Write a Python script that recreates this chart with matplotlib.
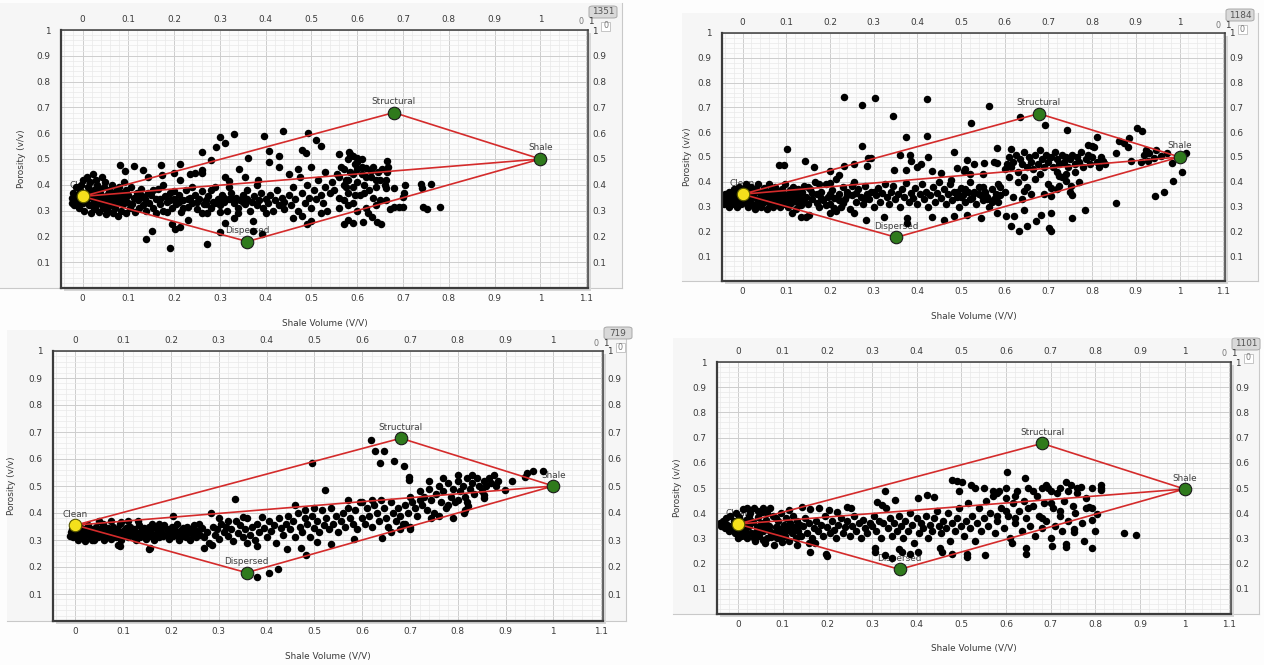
import matplotlib
matplotlib.use('Agg')
import matplotlib.pyplot as plt
from matplotlib.patches import Rectangle, FancyBboxPatch
import numpy as np

W, H = 1264, 665

# ---- data -------------------------------------------------------------
node_names = ['Clean', 'Structural', 'Shale', 'Dispersed']

p1_node_vsh = [0.0, 0.68, 1.0, 0.36]
p1_node_phi = [0.355, 0.68, 0.5, 0.18]
p2_node_vsh = [0.0, 0.678, 1.0, 0.352]
p2_node_phi = [0.35, 0.675, 0.5, 0.176]
p3_node_vsh = [0.0, 0.681, 1.0, 0.358]
p3_node_phi = [0.355, 0.677, 0.5, 0.179]
p4_node_vsh = [0.0, 0.681, 1.0, 0.362]
p4_node_phi = [0.357, 0.677, 0.496, 0.177]

sample_counts = ['1351', '1184', '719', '1101']

x_ticks = [0, 0.1, 0.2, 0.3, 0.4, 0.5, 0.6, 0.7, 0.8, 0.9, 1.0, 1.1]
x_tick_labels = ['0', '0.1', '0.2', '0.3', '0.4', '0.5', '0.6', '0.7',
                 '0.8', '0.9', '1', '1.1']
y_ticks = [0.1, 0.2, 0.3, 0.4, 0.5, 0.6, 0.7, 0.8, 0.9, 1.0]
y_tick_labels = ['0.1', '0.2', '0.3', '0.4', '0.5', '0.6', '0.7', '0.8',
                 '0.9', '1']

# (shale volume, porosity)
p1_pts = [
    (-0.024, 0.33), (-0.022, 0.35), (-0.02, 0.37), (-0.018, 0.32), (-0.015, 0.39), (-0.012, 0.34),
    (-0.01, 0.36), (-0.008, 0.31), (-0.006, 0.38), (-0.004, 0.40), (0.0, 0.42), (0.002, 0.33),
    (0.004, 0.30), (0.006, 0.37), (0.008, 0.35), (0.01, 0.43), (0.012, 0.39), (0.014, 0.32),
    (0.016, 0.41), (0.018, 0.29), (0.02, 0.36), (0.022, 0.44), (0.024, 0.34), (0.026, 0.38),
    (0.028, 0.31), (0.03, 0.42), (0.032, 0.40), (0.034, 0.33), (0.036, 0.295), (0.038, 0.37),
    (0.04, 0.35), (0.042, 0.43), (0.044, 0.31), (0.046, 0.39), (0.048, 0.33), (0.05, 0.41),
    (0.052, 0.285), (0.054, 0.36), (0.056, 0.30), (0.058, 0.38), (0.06, 0.34), (0.062, 0.32),
    (0.064, 0.40), (0.066, 0.29), (0.068, 0.36), (0.07, 0.345), (0.072, 0.31), (0.074, 0.375),
    (0.076, 0.33), (0.078, 0.28), (0.08, 0.39), (0.082, 0.355), (0.084, 0.30), (0.086, 0.37),
    (0.088, 0.325), (0.09, 0.41), (0.092, 0.345), (0.094, 0.29), (0.096, 0.38), (0.098, 0.335),
    (0.10, 0.36), (0.103, 0.31), (0.106, 0.39), (0.109, 0.325), (0.112, 0.35), (0.115, 0.295),
    (0.118, 0.37), (0.121, 0.34), (0.124, 0.31), (0.127, 0.385), (0.13, 0.355), (0.133, 0.32),
    (0.136, 0.345), (0.139, 0.30), (0.142, 0.37), (0.0, 0.36), (0.01, 0.345), (0.02, 0.32),
    (0.03, 0.355), (0.04, 0.325), (0.05, 0.345), (0.06, 0.365), (0.07, 0.325), (-0.01, 0.325),
    (0.015, 0.37), (0.035, 0.385), (0.045, 0.35), (0.025, 0.305), (0.055, 0.32), (0.065, 0.35),
    (0.075, 0.355), (0.085, 0.34), (0.095, 0.355), (0.005, 0.355), (-0.015, 0.355),
    (0.145, 0.33), (0.15, 0.36), (0.155, 0.31), (0.16, 0.345), (0.165, 0.385), (0.17, 0.325),
    (0.175, 0.30), (0.18, 0.355), (0.185, 0.335), (0.19, 0.37), (0.195, 0.31), (0.20, 0.345),
    (0.205, 0.325), (0.21, 0.36), (0.215, 0.295), (0.22, 0.34), (0.225, 0.38), (0.23, 0.315),
    (0.235, 0.35), (0.24, 0.33), (0.245, 0.36), (0.25, 0.305), (0.255, 0.345), (0.26, 0.375),
    (0.265, 0.325), (0.27, 0.34), (0.275, 0.355), (0.28, 0.31), (0.285, 0.335), (0.29, 0.39),
    (0.295, 0.345), (0.30, 0.32), (0.305, 0.36), (0.31, 0.335), (0.315, 0.30), (0.32, 0.345),
    (0.325, 0.37), (0.33, 0.33), (0.335, 0.35), (0.34, 0.31), (0.345, 0.34), (0.35, 0.36),
    (0.355, 0.325), (0.36, 0.345), (0.365, 0.30), (0.37, 0.335), (0.375, 0.355), (0.38, 0.32),
    (0.385, 0.34), (0.39, 0.37), (0.395, 0.31), (0.40, 0.345), (0.405, 0.33), (0.41, 0.36),
    (0.415, 0.30), (0.42, 0.34), (0.425, 0.38), (0.43, 0.32), (0.435, 0.35), (0.44, 0.335),
    (0.17, 0.345), (0.19, 0.34), (0.21, 0.335), (0.23, 0.345), (0.25, 0.335), (0.27, 0.325),
    (0.29, 0.33), (0.31, 0.35), (0.33, 0.345), (0.35, 0.335), (0.2, 0.375), (0.24, 0.39),
    (0.28, 0.38), (0.32, 0.39), (0.36, 0.38), (0.38, 0.40), (0.22, 0.31), (0.26, 0.29),
    (0.3, 0.295), (0.34, 0.29), (0.4, 0.29), (0.44, 0.305), (0.155, 0.38), (0.175, 0.40),
    (0.16, 0.29), (0.185, 0.295),
    (0.45, 0.36), (0.455, 0.32), (0.46, 0.39), (0.465, 0.345), (0.47, 0.30), (0.475, 0.43),
    (0.48, 0.37), (0.485, 0.33), (0.49, 0.40), (0.495, 0.35), (0.50, 0.31), (0.505, 0.38),
    (0.51, 0.345), (0.515, 0.42), (0.52, 0.36), (0.525, 0.33), (0.53, 0.39), (0.535, 0.30),
    (0.54, 0.37), (0.545, 0.41), (0.46, 0.27), (0.48, 0.28), (0.5, 0.26), (0.52, 0.29),
    (0.47, 0.46), (0.5, 0.47), (0.53, 0.45), (0.49, 0.25),
    (0.55, 0.38), (0.555, 0.44), (0.56, 0.35), (0.565, 0.47), (0.57, 0.40), (0.575, 0.42),
    (0.58, 0.37), (0.585, 0.45), (0.59, 0.39), (0.595, 0.48), (0.60, 0.41), (0.605, 0.36),
    (0.61, 0.44), (0.615, 0.40), (0.62, 0.465), (0.625, 0.38), (0.63, 0.43), (0.635, 0.47),
    (0.64, 0.39), (0.645, 0.45), (0.65, 0.42), (0.655, 0.46), (0.66, 0.40), (0.56, 0.43),
    (0.57, 0.46), (0.58, 0.42), (0.59, 0.44), (0.6, 0.46), (0.61, 0.47), (0.62, 0.43),
    (0.63, 0.455), (0.64, 0.42), (0.58, 0.50), (0.585, 0.52), (0.59, 0.51), (0.60, 0.49),
    (0.61, 0.50), (0.575, 0.39), (0.595, 0.36), (0.615, 0.37), (0.635, 0.35), (0.56, 0.31),
    (0.58, 0.32), (0.6, 0.30), (0.62, 0.31), (0.64, 0.32), (0.65, 0.34), (0.57, 0.34),
    (0.59, 0.33), (0.652, 0.248), (0.643, 0.257), (0.633, 0.276), (0.623, 0.289), (0.612, 0.257),
    (0.590, 0.252), (0.579, 0.262), (0.572, 0.249), (0.583, 0.528), (0.599, 0.502), (0.561, 0.519),
    (0.521, 0.552), (0.510, 0.573), (0.492, 0.60), (0.479, 0.535), (0.488, 0.522),
    (0.663, 0.341), (0.663, 0.386), (0.663, 0.418), (0.664, 0.451), (0.664, 0.492), (0.667, 0.47),
    (0.681, 0.315), (0.692, 0.315), (0.701, 0.351), (0.703, 0.367), (0.704, 0.399), (0.739, 0.403),
    (0.761, 0.403), (0.741, 0.387), (0.743, 0.313), (0.752, 0.306), (0.781, 0.313), (0.671, 0.306),
    (0.68, 0.387), (0.70, 0.313),
    (0.139, 0.189), (0.151, 0.22), (0.191, 0.155), (0.195, 0.249), (0.202, 0.228), (0.212, 0.235),
    (0.272, 0.169), (0.272, 0.29), (0.231, 0.263), (0.301, 0.216), (0.311, 0.253), (0.33, 0.27),
    (0.372, 0.22), (0.392, 0.21), (0.372, 0.26),
    (0.301, 0.586), (0.311, 0.563), (0.331, 0.595), (0.291, 0.548), (0.262, 0.528), (0.281, 0.497),
    (0.397, 0.589), (0.437, 0.608), (0.407, 0.53), (0.361, 0.503), (0.43, 0.51), (0.407, 0.487),
    (0.43, 0.47), (0.452, 0.44),
    (0.081, 0.477), (0.092, 0.455), (0.113, 0.471), (0.132, 0.458), (0.172, 0.477), (0.212, 0.48),
    (0.2, 0.445), (0.174, 0.437), (0.142, 0.43), (0.212, 0.42), (0.234, 0.44), (0.245, 0.445),
    (0.262, 0.457), (0.262, 0.445), (0.312, 0.432), (0.321, 0.414), (0.341, 0.463), (0.354, 0.432),
    (0.383, 0.42),
]

p2_pts = [
    (-0.045, 0.33), (-0.043, 0.31), (-0.04, 0.35), (-0.038, 0.32), (-0.035, 0.34), (-0.032, 0.30),
    (-0.03, 0.36), (-0.028, 0.33), (-0.025, 0.31), (-0.022, 0.35), (-0.02, 0.37), (-0.018, 0.32),
    (-0.015, 0.34), (-0.012, 0.30), (-0.01, 0.36), (-0.008, 0.38), (-0.005, 0.33), (-0.003, 0.31),
    (0.0, 0.35), (0.003, 0.37), (0.005, 0.32), (0.008, 0.39), (0.01, 0.34), (0.012, 0.30),
    (0.015, 0.36), (0.018, 0.33), (0.02, 0.38), (0.022, 0.31), (0.025, 0.35), (0.028, 0.29),
    (0.03, 0.37), (0.033, 0.33), (0.035, 0.39), (0.038, 0.315), (0.04, 0.355), (0.043, 0.30),
    (0.045, 0.34), (0.048, 0.375), (0.05, 0.32), (0.053, 0.36), (0.055, 0.29), (0.058, 0.345),
    (0.06, 0.39), (0.063, 0.31), (0.065, 0.365), (0.068, 0.33), (0.07, 0.30), (0.073, 0.35),
    (0.075, 0.38), (0.078, 0.32), (0.08, 0.34), (0.083, 0.36), (0.085, 0.30), (0.088, 0.33),
    (0.09, 0.37), (0.093, 0.31), (0.095, 0.35), (0.098, 0.39), (0.10, 0.325), (0.103, 0.345),
    (0.105, 0.30), (0.108, 0.365), (0.11, 0.315), (0.113, 0.34), (0.115, 0.38), (0.118, 0.33),
    (0.12, 0.355), (0.123, 0.29), (0.125, 0.32), (0.128, 0.37), (0.13, 0.34), (0.133, 0.305),
    (0.135, 0.36), (0.138, 0.325), (0.14, 0.385), (-0.02, 0.345), (0.0, 0.325), (0.02, 0.345),
    (0.04, 0.325), (0.06, 0.335), (0.08, 0.315), (0.01, 0.31), (0.03, 0.305), (0.05, 0.34),
    (0.07, 0.36),
    (0.145, 0.34), (0.15, 0.31), (0.155, 0.37), (0.16, 0.33), (0.165, 0.40), (0.17, 0.35),
    (0.175, 0.30), (0.18, 0.36), (0.185, 0.325), (0.19, 0.39), (0.195, 0.34), (0.20, 0.31),
    (0.205, 0.365), (0.21, 0.335), (0.215, 0.41), (0.22, 0.35), (0.225, 0.30), (0.23, 0.38),
    (0.235, 0.33), (0.24, 0.36), (0.245, 0.29), (0.25, 0.345), (0.255, 0.40), (0.26, 0.32),
    (0.265, 0.37), (0.27, 0.34), (0.275, 0.31), (0.28, 0.385), (0.285, 0.35), (0.29, 0.33),
    (0.295, 0.36), (0.30, 0.30), (0.305, 0.345), (0.31, 0.375), (0.315, 0.32), (0.32, 0.355),
    (0.325, 0.39), (0.33, 0.34), (0.335, 0.31), (0.34, 0.36), (0.345, 0.385), (0.35, 0.33),
    (0.355, 0.35), (0.36, 0.30), (0.365, 0.37), (0.37, 0.34), (0.375, 0.395), (0.38, 0.32),
    (0.385, 0.355), (0.39, 0.335), (0.395, 0.375), (0.40, 0.31), (0.405, 0.35), (0.41, 0.39),
    (0.415, 0.33), (0.42, 0.36), (0.425, 0.30), (0.43, 0.345), (0.435, 0.38), (0.44, 0.32),
    (0.445, 0.355), (0.45, 0.40), (0.455, 0.335), (0.46, 0.37), (0.465, 0.31), (0.47, 0.35),
    (0.475, 0.39), (0.48, 0.325), (0.485, 0.36), (0.49, 0.34), (0.495, 0.30), (0.50, 0.375),
    (0.505, 0.345), (0.51, 0.32), (0.515, 0.36), (0.52, 0.40), (0.525, 0.335), (0.53, 0.355),
    (0.535, 0.31), (0.54, 0.38), (0.545, 0.345), (0.55, 0.325), (0.555, 0.36), (0.56, 0.34),
    (0.565, 0.30), (0.57, 0.37), (0.575, 0.33), (0.58, 0.35), (0.585, 0.32), (0.59, 0.345),
    (0.16, 0.355), (0.18, 0.335), (0.2, 0.35), (0.22, 0.325), (0.24, 0.345), (0.26, 0.355),
    (0.28, 0.33), (0.3, 0.36), (0.17, 0.315), (0.19, 0.305), (0.21, 0.295), (0.23, 0.315),
    (0.15, 0.38), (0.175, 0.39), (0.2, 0.395), (0.25, 0.385),
    (0.232, 0.743), (0.274, 0.71), (0.303, 0.739), (0.344, 0.666), (0.423, 0.734), (0.374, 0.579),
    (0.423, 0.585), (0.424, 0.499), (0.274, 0.543), (0.286, 0.496), (0.255, 0.473), (0.102, 0.533),
    (0.083, 0.466), (0.094, 0.466), (0.142, 0.482), (0.163, 0.46), (0.383, 0.508), (0.408, 0.47),
    (0.2, 0.442), (0.22, 0.429), (0.232, 0.462), (0.293, 0.495), (0.285, 0.462), (0.361, 0.508),
    (0.385, 0.485), (0.4, 0.459), (0.346, 0.448), (0.373, 0.448), (0.484, 0.522), (0.434, 0.442),
    (0.453, 0.435), (0.476, 0.408), (0.491, 0.455), (0.507, 0.442), (0.514, 0.488), (0.552, 0.475),
    (0.583, 0.475), (0.583, 0.535), (0.614, 0.531), (0.522, 0.639), (0.564, 0.706), (0.634, 0.662),
    (0.693, 0.629), (0.743, 0.609), (0.811, 0.579), (0.903, 0.615), (0.914, 0.605), (0.862, 0.566),
    (0.873, 0.558), (0.885, 0.575), (0.881, 0.542), (0.855, 0.515), (0.923, 0.529), (0.919, 0.509),
    (0.93, 0.515), (0.946, 0.529), (0.942, 0.495), (0.957, 0.505), (0.972, 0.515), (0.888, 0.482),
    (0.911, 0.478), (0.927, 0.485), (1.014, 0.518), (0.983, 0.474), (1.006, 0.441), (0.984, 0.404),
    (0.964, 0.357), (0.944, 0.341), (0.854, 0.313), (0.783, 0.286), (0.755, 0.253),
    (0.614, 0.221), (0.633, 0.201), (0.652, 0.221), (0.671, 0.241), (0.682, 0.268), (0.701, 0.214),
    (0.705, 0.201), (0.705, 0.275), (0.751, 0.382), (0.755, 0.348), (0.74, 0.402), (0.724, 0.422),
    (0.724, 0.382), (0.705, 0.375), (0.705, 0.341), (0.644, 0.287), (0.644, 0.361), (0.644, 0.419),
    (0.583, 0.274), (0.602, 0.261), (0.621, 0.261), (0.545, 0.254), (0.514, 0.267), (0.484, 0.261),
    (0.461, 0.247), (0.434, 0.258), (0.377, 0.234), (0.377, 0.254), (0.323, 0.258), (0.283, 0.247),
    (0.255, 0.274), (0.213, 0.281), (0.201, 0.274), (0.133, 0.26), (0.145, 0.26), (0.152, 0.267),
    (0.114, 0.274),
    (0.60, 0.45), (0.605, 0.47), (0.61, 0.50), (0.615, 0.46), (0.62, 0.48), (0.625, 0.51),
    (0.63, 0.44), (0.635, 0.49), (0.64, 0.47), (0.645, 0.52), (0.65, 0.46), (0.655, 0.50),
    (0.66, 0.48), (0.665, 0.45), (0.67, 0.51), (0.675, 0.47), (0.68, 0.53), (0.685, 0.49),
    (0.69, 0.46), (0.695, 0.51), (0.70, 0.48), (0.705, 0.50), (0.71, 0.46), (0.715, 0.52),
    (0.72, 0.49), (0.725, 0.47), (0.73, 0.51), (0.735, 0.48), (0.74, 0.50), (0.745, 0.46),
    (0.75, 0.49), (0.755, 0.51), (0.76, 0.47), (0.765, 0.50), (0.77, 0.48), (0.775, 0.52),
    (0.78, 0.46), (0.785, 0.49), (0.79, 0.51), (0.795, 0.47), (0.80, 0.50), (0.805, 0.54),
    (0.81, 0.48), (0.815, 0.46), (0.82, 0.50), (0.825, 0.485), (0.83, 0.47), (0.79, 0.55),
    (0.80, 0.545), (0.76, 0.44), (0.74, 0.43), (0.72, 0.44),
    (0.61, 0.42), (0.63, 0.40), (0.65, 0.38), (0.67, 0.41), (0.69, 0.35), (0.70, 0.39),
    (0.72, 0.37), (0.73, 0.42), (0.75, 0.36), (0.77, 0.40), (0.6, 0.36), (0.62, 0.34),
    (0.64, 0.33), (0.66, 0.35), (0.68, 0.43), (0.49, 0.36), (0.50, 0.34), (0.51, 0.37),
    (0.52, 0.33), (0.53, 0.36), (0.54, 0.35), (0.55, 0.38), (0.56, 0.33), (0.57, 0.32),
    (0.58, 0.33), (0.51, 0.45), (0.52, 0.43), (0.53, 0.47), (0.55, 0.43), (0.575, 0.48),
    (0.585, 0.39), (0.59, 0.38),
]

p3_pts = [
    (-0.01, 0.33), (-0.005, 0.31), (0.0, 0.34), (0.003, 0.32), (0.006, 0.30), (0.009, 0.35),
    (0.012, 0.33), (0.015, 0.31), (0.018, 0.34), (0.021, 0.295), (0.024, 0.325), (0.027, 0.355),
    (0.03, 0.31), (0.033, 0.34), (0.036, 0.32), (0.039, 0.30), (0.042, 0.35), (0.045, 0.33),
    (0.048, 0.31), (0.051, 0.34), (0.054, 0.32), (0.057, 0.36), (0.06, 0.30), (0.063, 0.335),
    (0.066, 0.315), (0.069, 0.345), (0.072, 0.325), (0.075, 0.305), (0.078, 0.35), (0.081, 0.33),
    (0.084, 0.31), (0.087, 0.34), (0.09, 0.32), (0.093, 0.36), (0.096, 0.30), (0.099, 0.335),
    (0.102, 0.315), (0.105, 0.345), (0.108, 0.325), (0.111, 0.31), (0.114, 0.35), (0.117, 0.33),
    (0.12, 0.315), (0.123, 0.34), (0.126, 0.30), (0.129, 0.325), (0.132, 0.355), (0.135, 0.31),
    (0.138, 0.335), (0.141, 0.32), (0.144, 0.345), (0.147, 0.305), (0.15, 0.33), (0.153, 0.35),
    (0.156, 0.315), (0.159, 0.34), (0.162, 0.32), (0.165, 0.30), (0.168, 0.345), (0.171, 0.325),
    (0.174, 0.31), (0.177, 0.34), (0.18, 0.33), (0.183, 0.315), (0.186, 0.355), (0.189, 0.32),
    (0.192, 0.34), (0.195, 0.305), (0.198, 0.33), (0.201, 0.35), (0.204, 0.315), (0.207, 0.34),
    (0.21, 0.32), (0.213, 0.36), (0.216, 0.30), (0.219, 0.335), (0.222, 0.315), (0.225, 0.345),
    (0.228, 0.325), (0.231, 0.31), (0.234, 0.35), (0.237, 0.33), (0.24, 0.30), (0.243, 0.34),
    (0.246, 0.32), (0.249, 0.355), (0.252, 0.31), (0.255, 0.335), (0.258, 0.36), (0.261, 0.32),
    (-0.012, 0.315), (-0.008, 0.34), (0.005, 0.335), (0.01, 0.315), (0.02, 0.325), (0.03, 0.335),
    (0.04, 0.315), (0.035, 0.3), (0.05, 0.32), (0.06, 0.345), (0.07, 0.31), (0.05, 0.37),
    (0.075, 0.37), (0.095, 0.365), (0.11, 0.37), (0.09, 0.28), (0.155, 0.27), (0.153, 0.265),
    (0.094, 0.277), (0.204, 0.388), (0.13, 0.37), (0.16, 0.36), (0.175, 0.36),
    (0.265, 0.345), (0.27, 0.31), (0.275, 0.33), (0.28, 0.29), (0.284, 0.40), (0.288, 0.35),
    (0.292, 0.32), (0.296, 0.34), (0.30, 0.305), (0.305, 0.36), (0.31, 0.33), (0.315, 0.35),
    (0.32, 0.315), (0.325, 0.34), (0.33, 0.295), (0.333, 0.453), (0.336, 0.37), (0.34, 0.325),
    (0.345, 0.355), (0.35, 0.31), (0.355, 0.34), (0.36, 0.38), (0.365, 0.32), (0.37, 0.35),
    (0.375, 0.30), (0.38, 0.36), (0.385, 0.33), (0.39, 0.385), (0.395, 0.345), (0.40, 0.31),
    (0.405, 0.37), (0.41, 0.335), (0.415, 0.355), (0.42, 0.29), (0.425, 0.38), (0.43, 0.345),
    (0.268, 0.27), (0.285, 0.28), (0.38, 0.277), (0.36, 0.29), (0.32, 0.37), (0.3, 0.38),
    (0.35, 0.385),
    (0.435, 0.32), (0.44, 0.36), (0.443, 0.265), (0.445, 0.39), (0.45, 0.34), (0.455, 0.37),
    (0.46, 0.31), (0.465, 0.40), (0.47, 0.35), (0.473, 0.272), (0.475, 0.33), (0.48, 0.38),
    (0.482, 0.244), (0.485, 0.36), (0.49, 0.31), (0.494, 0.587), (0.495, 0.39), (0.50, 0.345),
    (0.505, 0.293), (0.505, 0.37), (0.51, 0.33), (0.515, 0.41), (0.52, 0.355), (0.523, 0.485),
    (0.525, 0.38), (0.53, 0.34), (0.534, 0.287), (0.535, 0.42), (0.54, 0.36), (0.545, 0.39),
    (0.55, 0.33), (0.555, 0.37), (0.46, 0.43), (0.48, 0.41), (0.50, 0.42),
    (0.56, 0.40), (0.565, 0.35), (0.57, 0.42), (0.575, 0.38), (0.58, 0.36), (0.582, 0.302),
    (0.585, 0.41), (0.59, 0.34), (0.595, 0.44), (0.60, 0.38), (0.605, 0.36), (0.61, 0.42),
    (0.615, 0.39), (0.62, 0.35), (0.625, 0.43), (0.63, 0.40), (0.635, 0.37), (0.64, 0.45),
    (0.641, 0.306), (0.645, 0.42), (0.65, 0.38), (0.655, 0.35), (0.66, 0.44), (0.665, 0.40),
    (0.67, 0.37), (0.675, 0.42), (0.68, 0.39), (0.685, 0.36), (0.69, 0.43), (0.695, 0.40),
    (0.70, 0.35), (0.70, 0.46), (0.705, 0.44), (0.71, 0.42), (0.715, 0.39), (0.72, 0.45),
    (0.57, 0.45), (0.6, 0.44), (0.62, 0.45), (0.66, 0.33), (0.68, 0.34), (0.69, 0.36),
    (0.7, 0.34),
    (0.72, 0.48), (0.725, 0.43), (0.73, 0.46), (0.735, 0.41), (0.74, 0.49), (0.745, 0.45),
    (0.75, 0.40), (0.755, 0.47), (0.76, 0.50), (0.765, 0.44), (0.77, 0.48), (0.775, 0.42),
    (0.78, 0.51), (0.785, 0.46), (0.79, 0.49), (0.79, 0.381), (0.795, 0.44), (0.80, 0.52),
    (0.805, 0.48), (0.81, 0.50), (0.813, 0.40), (0.815, 0.412), (0.815, 0.46), (0.82, 0.53),
    (0.822, 0.426), (0.825, 0.49), (0.83, 0.51), (0.835, 0.47), (0.84, 0.53), (0.845, 0.50),
    (0.85, 0.48), (0.854, 0.454), (0.854, 0.466), (0.855, 0.52), (0.86, 0.50), (0.865, 0.53),
    (0.87, 0.51), (0.875, 0.54), (0.88, 0.50), (0.885, 0.52), (0.899, 0.485), (0.913, 0.518),
    (0.941, 0.534), (0.945, 0.547), (0.958, 0.555), (0.979, 0.555), (0.74, 0.52), (0.77, 0.53),
    (0.8, 0.54), (0.83, 0.54), (0.76, 0.39), (0.745, 0.38), (0.78, 0.43), (0.8, 0.45),
    (0.82, 0.44),
    (0.618, 0.67), (0.627, 0.631), (0.646, 0.631), (0.637, 0.587), (0.667, 0.593), (0.687, 0.573),
    (0.699, 0.534), (0.699, 0.522), (0.38, 0.164), (0.404, 0.179), (0.424, 0.192),
]

p4_pts = [
    (-0.04, 0.36), (-0.037, 0.35), (-0.034, 0.37), (-0.03, 0.34), (-0.027, 0.38), (-0.024, 0.355),
    (-0.02, 0.33), (-0.017, 0.39), (-0.014, 0.345), (-0.01, 0.37), (-0.007, 0.32), (-0.004, 0.40),
    (0.0, 0.34), (0.003, 0.385), (0.006, 0.31), (0.009, 0.36), (0.012, 0.415), (0.015, 0.33),
    (0.018, 0.375), (0.021, 0.30), (0.024, 0.35), (0.027, 0.40), (0.03, 0.32), (0.033, 0.365),
    (0.036, 0.42), (0.039, 0.29), (0.042, 0.345), (0.045, 0.385), (0.048, 0.31), (0.051, 0.36),
    (0.054, 0.405), (0.057, 0.33), (0.06, 0.28), (0.063, 0.375), (0.066, 0.30), (0.069, 0.35),
    (0.072, 0.42), (0.075, 0.32), (0.078, 0.39), (0.081, 0.275), (0.084, 0.345), (0.087, 0.30),
    (0.09, 0.37), (0.093, 0.325), (0.096, 0.40), (0.099, 0.285), (0.102, 0.355), (0.105, 0.31),
    (0.108, 0.38), (0.111, 0.335), (0.114, 0.29), (0.117, 0.36), (0.12, 0.32), (0.123, 0.39),
    (0.126, 0.345), (0.129, 0.30), (0.132, 0.37), (0.135, 0.33), (0.138, 0.355), (0.141, 0.31),
    (0.0, 0.30), (0.01, 0.325), (0.02, 0.345), (0.03, 0.37), (0.04, 0.325), (0.05, 0.345),
    (0.06, 0.355), (0.07, 0.335), (0.08, 0.32), (0.09, 0.34), (0.1, 0.33), (0.11, 0.35),
    (0.015, 0.31), (0.035, 0.30), (0.055, 0.295), (0.075, 0.305), (0.095, 0.31), (-0.02, 0.35),
    (-0.01, 0.355), (0.005, 0.35), (0.025, 0.39), (0.045, 0.41), (0.065, 0.40), (0.085, 0.38),
    (0.02, 0.42), (0.055, 0.42),
    (0.145, 0.35), (0.15, 0.38), (0.155, 0.32), (0.16, 0.36), (0.162, 0.416), (0.165, 0.30),
    (0.17, 0.34), (0.173, 0.28), (0.175, 0.37), (0.18, 0.33), (0.181, 0.42), (0.185, 0.355),
    (0.19, 0.31), (0.195, 0.39), (0.2, 0.345), (0.204, 0.413), (0.205, 0.32), (0.21, 0.37),
    (0.215, 0.335), (0.22, 0.30), (0.222, 0.404), (0.225, 0.355), (0.23, 0.38), (0.235, 0.32),
    (0.24, 0.345), (0.244, 0.426), (0.245, 0.37), (0.25, 0.31), (0.254, 0.42), (0.255, 0.35),
    (0.26, 0.39), (0.265, 0.33), (0.27, 0.36), (0.275, 0.30), (0.28, 0.375), (0.285, 0.34),
    (0.29, 0.32), (0.295, 0.36), (0.143, 0.424), (0.114, 0.413), (0.132, 0.273), (0.158, 0.28),
    (0.162, 0.248), (0.2, 0.231), (0.196, 0.238),
    (0.30, 0.35), (0.305, 0.39), (0.307, 0.248), (0.307, 0.26), (0.31, 0.33), (0.311, 0.446),
    (0.315, 0.37), (0.32, 0.30), (0.322, 0.433), (0.325, 0.36), (0.33, 0.234), (0.33, 0.488),
    (0.331, 0.42), (0.335, 0.34), (0.34, 0.38), (0.345, 0.221), (0.345, 0.31), (0.35, 0.36),
    (0.352, 0.452), (0.355, 0.33), (0.36, 0.257), (0.36, 0.39), (0.365, 0.35), (0.367, 0.248),
    (0.37, 0.30), (0.375, 0.37), (0.38, 0.33), (0.385, 0.40), (0.386, 0.24), (0.39, 0.355),
    (0.395, 0.28), (0.40, 0.38), (0.403, 0.462), (0.404, 0.248), (0.405, 0.32), (0.41, 0.36),
    (0.415, 0.34), (0.42, 0.39), (0.423, 0.472), (0.425, 0.30), (0.43, 0.355), (0.435, 0.33),
    (0.438, 0.466), (0.44, 0.38), (0.445, 0.41), (0.45, 0.35), (0.452, 0.26), (0.455, 0.32),
    (0.457, 0.248), (0.46, 0.37), (0.465, 0.34), (0.47, 0.40), (0.475, 0.29), (0.48, 0.237),
    (0.48, 0.532), (0.48, 0.36), (0.485, 0.33), (0.49, 0.38), (0.491, 0.528), (0.494, 0.488),
    (0.495, 0.42), (0.50, 0.35), (0.502, 0.523), (0.505, 0.31), (0.51, 0.37), (0.513, 0.24),
    (0.513, 0.225), (0.515, 0.44), (0.52, 0.34), (0.521, 0.512), (0.525, 0.39), (0.53, 0.29),
    (0.535, 0.36), (0.54, 0.42), (0.545, 0.33), (0.55, 0.38), (0.554, 0.234), (0.555, 0.45),
    (0.56, 0.35), (0.565, 0.40), (0.57, 0.47), (0.575, 0.32), (0.58, 0.37), (0.585, 0.49),
    (0.59, 0.42), (0.595, 0.34), (0.60, 0.46), (0.603, 0.562), (0.605, 0.39), (0.61, 0.30),
    (0.614, 0.28), (0.615, 0.44), (0.62, 0.36), (0.625, 0.49), (0.63, 0.41), (0.635, 0.33),
    (0.64, 0.45), (0.643, 0.538), (0.644, 0.24), (0.644, 0.26), (0.645, 0.38), (0.65, 0.50),
    (0.655, 0.35), (0.66, 0.43), (0.665, 0.31), (0.67, 0.47), (0.675, 0.39), (0.68, 0.34),
    (0.685, 0.44), (0.689, 0.512), (0.69, 0.37), (0.695, 0.499), (0.70, 0.30), (0.704, 0.271),
    (0.705, 0.42), (0.71, 0.35), (0.715, 0.48), (0.72, 0.39), (0.725, 0.33), (0.73, 0.45),
    (0.734, 0.525), (0.734, 0.277), (0.734, 0.267), (0.74, 0.37), (0.745, 0.512), (0.75, 0.43),
    (0.752, 0.324), (0.752, 0.337), (0.755, 0.40), (0.76, 0.499), (0.767, 0.505), (0.77, 0.36),
    (0.775, 0.29), (0.78, 0.42), (0.786, 0.426), (0.793, 0.422), (0.793, 0.499), (0.793, 0.373),
    (0.793, 0.261), (0.805, 0.396), (0.812, 0.512), (0.812, 0.492), (0.812, 0.50), (0.80, 0.33),
    (0.864, 0.32), (0.892, 0.314),
    (0.57, 0.49), (0.58, 0.48), (0.6, 0.50), (0.62, 0.47), (0.66, 0.49), (0.68, 0.50),
    (0.7, 0.49), (0.72, 0.50), (0.74, 0.49), (0.76, 0.48), (0.78, 0.46), (0.55, 0.5),
    (0.53, 0.5), (0.6, 0.41), (0.65, 0.42), (0.7, 0.44), (0.72, 0.41), (0.68, 0.38),
    (0.62, 0.38), (0.58, 0.39),
]

# ---- layout (pixel boxes of the plot frames and their surrounding panels) ----
panels = [
    dict(frame=(61, 30, 588, 288), box=(0, 3, 622, 288), ylab_x=22,
         pts=p1_pts, vsh=p1_node_vsh, phi=p1_node_phi),
    dict(frame=(722, 33, 1225, 281), box=(682, 13, 1258, 281), ylab_x=687,
         pts=p2_pts, vsh=p2_node_vsh, phi=p2_node_phi),
    dict(frame=(53, 351, 603, 621), box=(7, 330, 626, 621), ylab_x=12,
         pts=p3_pts, vsh=p3_node_vsh, phi=p3_node_phi),
    dict(frame=(717, 362, 1231, 614), box=(673, 338, 1259, 614), ylab_x=678,
         pts=p4_pts, vsh=p4_node_vsh, phi=p4_node_phi),
]

plt.rcParams['font.family'] = 'DejaVu Sans'
fig = plt.figure(figsize=(W / 100, H / 100), dpi=100, facecolor='#fdfdfd')

text_col = '#3a3a3a'
fs = 6.4


def fx(px):
    return px / W


def fy(py):
    return 1 - py / H


for i, p in enumerate(panels):
    l, t, r, b = p['frame']
    bl, bt, br, bb = p['box']

    # panel background and its edge lines
    fig.patches.append(Rectangle((fx(bl), fy(bb)), fx(br - bl), (bb - bt) / H,
                                 transform=fig.transFigure, facecolor='#f6f6f6',
                                 edgecolor='none', zorder=-2))
    fig.lines.append(plt.Line2D([fx(bl), fx(br)], [fy(bb), fy(bb)],
                                transform=fig.transFigure, color='#c9c9c9', lw=0.8,
                                zorder=-1))
    fig.lines.append(plt.Line2D([fx(br), fx(br)], [fy(bt), fy(bb)],
                                transform=fig.transFigure, color='#c9c9c9', lw=0.8,
                                zorder=-1))

    # soft drop shadow under the frame
    fig.patches.append(Rectangle((fx(l + 3), fy(b + 3)), fx(r - l), (b - t) / H,
                                 transform=fig.transFigure, facecolor='#d6d6d6',
                                 edgecolor='none', zorder=-1))

    ax = fig.add_axes([fx(l), fy(b), fx(r - l), (b - t) / H])
    ax.set_zorder(3)
    ax.set_facecolor('#fcfcfc')
    ax.set_xlim(-0.047, 1.104)
    ax.set_ylim(0, 1)

    ax.set_xticks(x_ticks)
    ax.set_xticklabels(x_tick_labels)
    ax.set_yticks(y_ticks)
    ax.set_yticklabels(y_tick_labels)
    ax.set_xticks(np.arange(-0.04, 1.11, 0.02), minor=True)
    ax.set_yticks(np.arange(0.02, 1.0, 0.02), minor=True)
    ax.grid(which='major', color='#cdcdcd', lw=0.7, zorder=0)
    ax.grid(which='minor', color='#e9e9e9', lw=0.5, zorder=0)
    ax.set_axisbelow(True)
    ax.tick_params(which='both', length=0, labelsize=fs, labelcolor=text_col)
    ax.tick_params(axis='x', pad=4.5)
    ax.tick_params(axis='y', pad=7.5)

    top = ax.secondary_xaxis('top')
    top.set_xticks(x_ticks[:-1])
    top.set_xticklabels(x_tick_labels[:-1])
    top.tick_params(length=0, labelsize=fs, labelcolor=text_col, pad=4)
    right = ax.secondary_yaxis('right')
    right.set_yticks(y_ticks)
    right.set_yticklabels(y_tick_labels)
    right.tick_params(length=0, labelsize=fs, labelcolor=text_col, pad=3)
    for a in (top, right):
        for s in a.spines.values():
            s.set_visible(False)

    for side, s in ax.spines.items():
        s.set_color('#3c3c3c')
        s.set_linewidth(1.6 if side in ('left', 'bottom') else 1.1)
        s.set_zorder(6)

    # end-member labels (drawn under the points)
    for k, name in enumerate(node_names):
        ax.annotate(name, (p['vsh'][k], p['phi'][k]), xytext=(0, 11),
                    textcoords='offset pixels', ha='center', va='center',
                    fontsize=fs, color='#404040', zorder=1)

    xs = [q[0] for q in p['pts']]
    ys = [q[1] for q in p['pts']]
    ax.plot(xs, ys, 'o', color='black', ms=5.4, mec='black', mew=0, zorder=2)

    # model lines: clean-structural-shale-dispersed-clean and clean-shale
    order = [0, 1, 2, 3, 0, 2]
    ax.plot([p['vsh'][k] for k in order], [p['phi'][k] for k in order],
            color='#d42b2b', lw=1.2, zorder=3, solid_joinstyle='miter')
    ax.plot(p['vsh'][1:], p['phi'][1:], 'o', ms=9, color='#2f7a1c',
            mec='#1a1a1a', mew=0.8, zorder=4)
    ax.plot(p['vsh'][0], p['phi'][0], 'o', ms=9, color='#f4e01c',
            mec='#555500', mew=0.8, zorder=4)

    # axis titles
    fig.text(fx(p['ylab_x']), fy((t + b) / 2), 'Porosity (v/v)', rotation=90,
             ha='center', va='center', fontsize=fs, color=text_col)
    fig.text(fx((l + r) / 2), fy(b + 35), 'Shale Volume (V/V)', ha='center',
             va='center', fontsize=fs, color=text_col)

    # little widgets at the top right corner
    tab = FancyBboxPatch((fx(r + 1), fy(t - 12)), fx(28), 12 / H,
                         boxstyle='round,pad=0.0,rounding_size=0.003',
                         transform=fig.transFigure, facecolor='#d9d9d9',
                         edgecolor='#a8a8a8', lw=0.7, zorder=5)
    fig.patches.append(tab)
    fig.text(fx(r + 15), fy(t - 18), sample_counts[i], ha='center', va='center',
             fontsize=fs, color='#555555', zorder=6)
    fig.text(fx(r - 7), fy(t - 8), '0', ha='center', va='center',
             fontsize=fs - 0.6, color='#777777', zorder=6)
    fig.text(fx(r + 3), fy(t - 8), '1', ha='center', va='center',
             fontsize=fs, color=text_col, zorder=6)
    fig.patches.append(Rectangle((fx(r + 13), fy(t + 1)), fx(9), 9 / H,
                                 transform=fig.transFigure, facecolor='white',
                                 edgecolor='#bdbdbd', lw=0.6, zorder=5))
    fig.text(fx(r + 17.5), fy(t - 4), '0', ha='center', va='center',
             fontsize=fs - 0.6, color='#777777', zorder=6)

fig.savefig('out.png', dpi=100, facecolor=fig.get_facecolor())
